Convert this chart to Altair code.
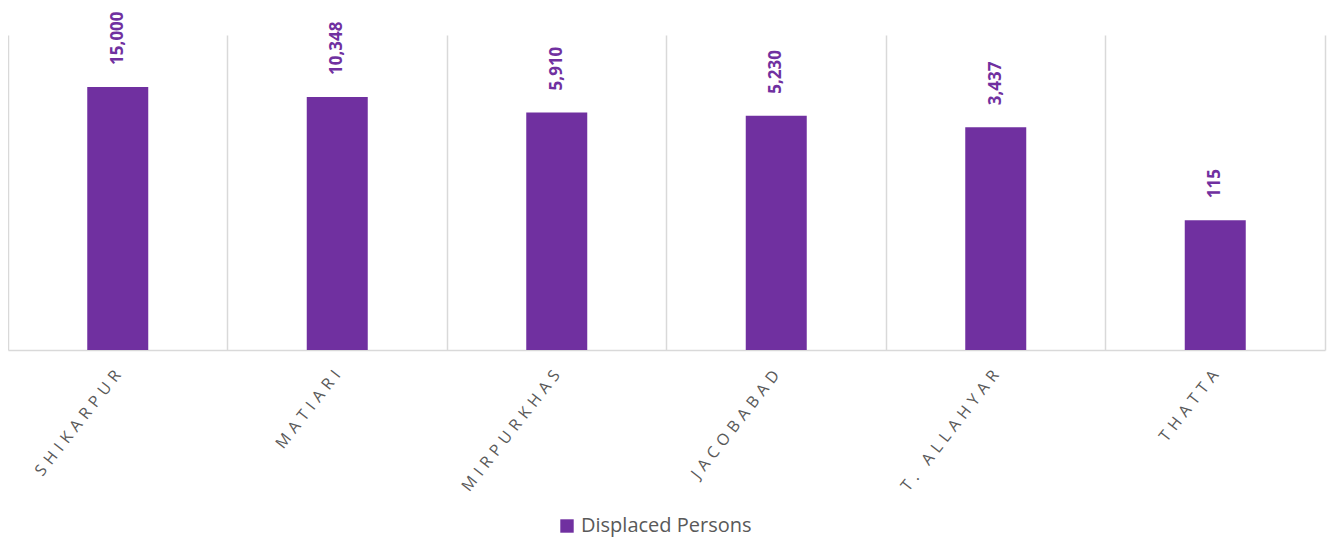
import altair as alt
import pandas as pd

districts = ["SHIKARPUR", "MATIARI", "MIRPURKHAS", "JACOBABAD", "T. ALLAHYAR", "THATTA"]
displaced = [15000, 10348, 5910, 5230, 3437, 115]
series = ["Displaced Persons"] * len(districts)

df = pd.DataFrame({"district": districts, "value": displaced, "series": series})

FONT = "Open Sans"
PURPLE = "#7030A0"
GRID = "#d9d9d9"

x = alt.X(
    "district:N",
    sort=districts,
    scale=alt.Scale(paddingInner=0, paddingOuter=0),
    axis=alt.Axis(
        title=None,
        bandPosition=0,
        grid=True,
        gridColor=GRID,
        gridWidth=1.5,
        ticks=False,
        domainColor=GRID,
        domainWidth=1.5,
        labelAngle=-52,
        labelAlign="right",
        labelBaseline="middle",
        labelPadding=22,
        labelFont=FONT,
        labelFontSize=16,
        labelColor="#595959",
        labelLimit=300,
        labelExpr="join(split(datum.label, ''), '\u2004')",
    ),
)

y = alt.Y(
    "value:Q",
    scale=alt.Scale(type="log", domain=[1, 100000]),
    axis=alt.Axis(
        orient="right",
        title=None,
        labels=False,
        ticks=False,
        grid=False,
        domainColor=GRID,
        domainWidth=1.5,
    ),
)

base = alt.Chart(df)

bars = base.mark_bar(size=61).encode(
    x=x,
    y=y,
    y2=alt.Y2(datum=1),
    color=alt.Color(
        "series:N",
        scale=alt.Scale(range=[PURPLE]),
        legend=alt.Legend(
            title=None,
            orient="none",
            legendX=549,
            legendY=481,
            symbolType="square",
            symbolSize=180,
            symbolStrokeWidth=0,
            labelFont=FONT,
            labelFontSize=20,
            labelLimit=400,
            labelColor="#595959",
        ),
    ),
)

labels = base.mark_text(
    angle=270,
    align="left",
    baseline="middle",
    dx=22,
    font=FONT,
    fontSize=17,
    fontWeight="bold",
    color=PURPLE,
).encode(
    x=alt.X("district:N", sort=districts),
    y=alt.Y("value:Q"),
    text=alt.Text("value:Q", format=","),
)

chart = (
    alt.layer(bars, labels)
    .properties(
        width=1317,
        height=315,
        autosize=alt.AutoSizeParams(type="none"),
        padding={"left": 0, "top": 27, "right": 5, "bottom": 190},
    )
    .configure_view(stroke=None)
)

chart.save("out.html", embed_options={"renderer": "svg", "actions": False})
